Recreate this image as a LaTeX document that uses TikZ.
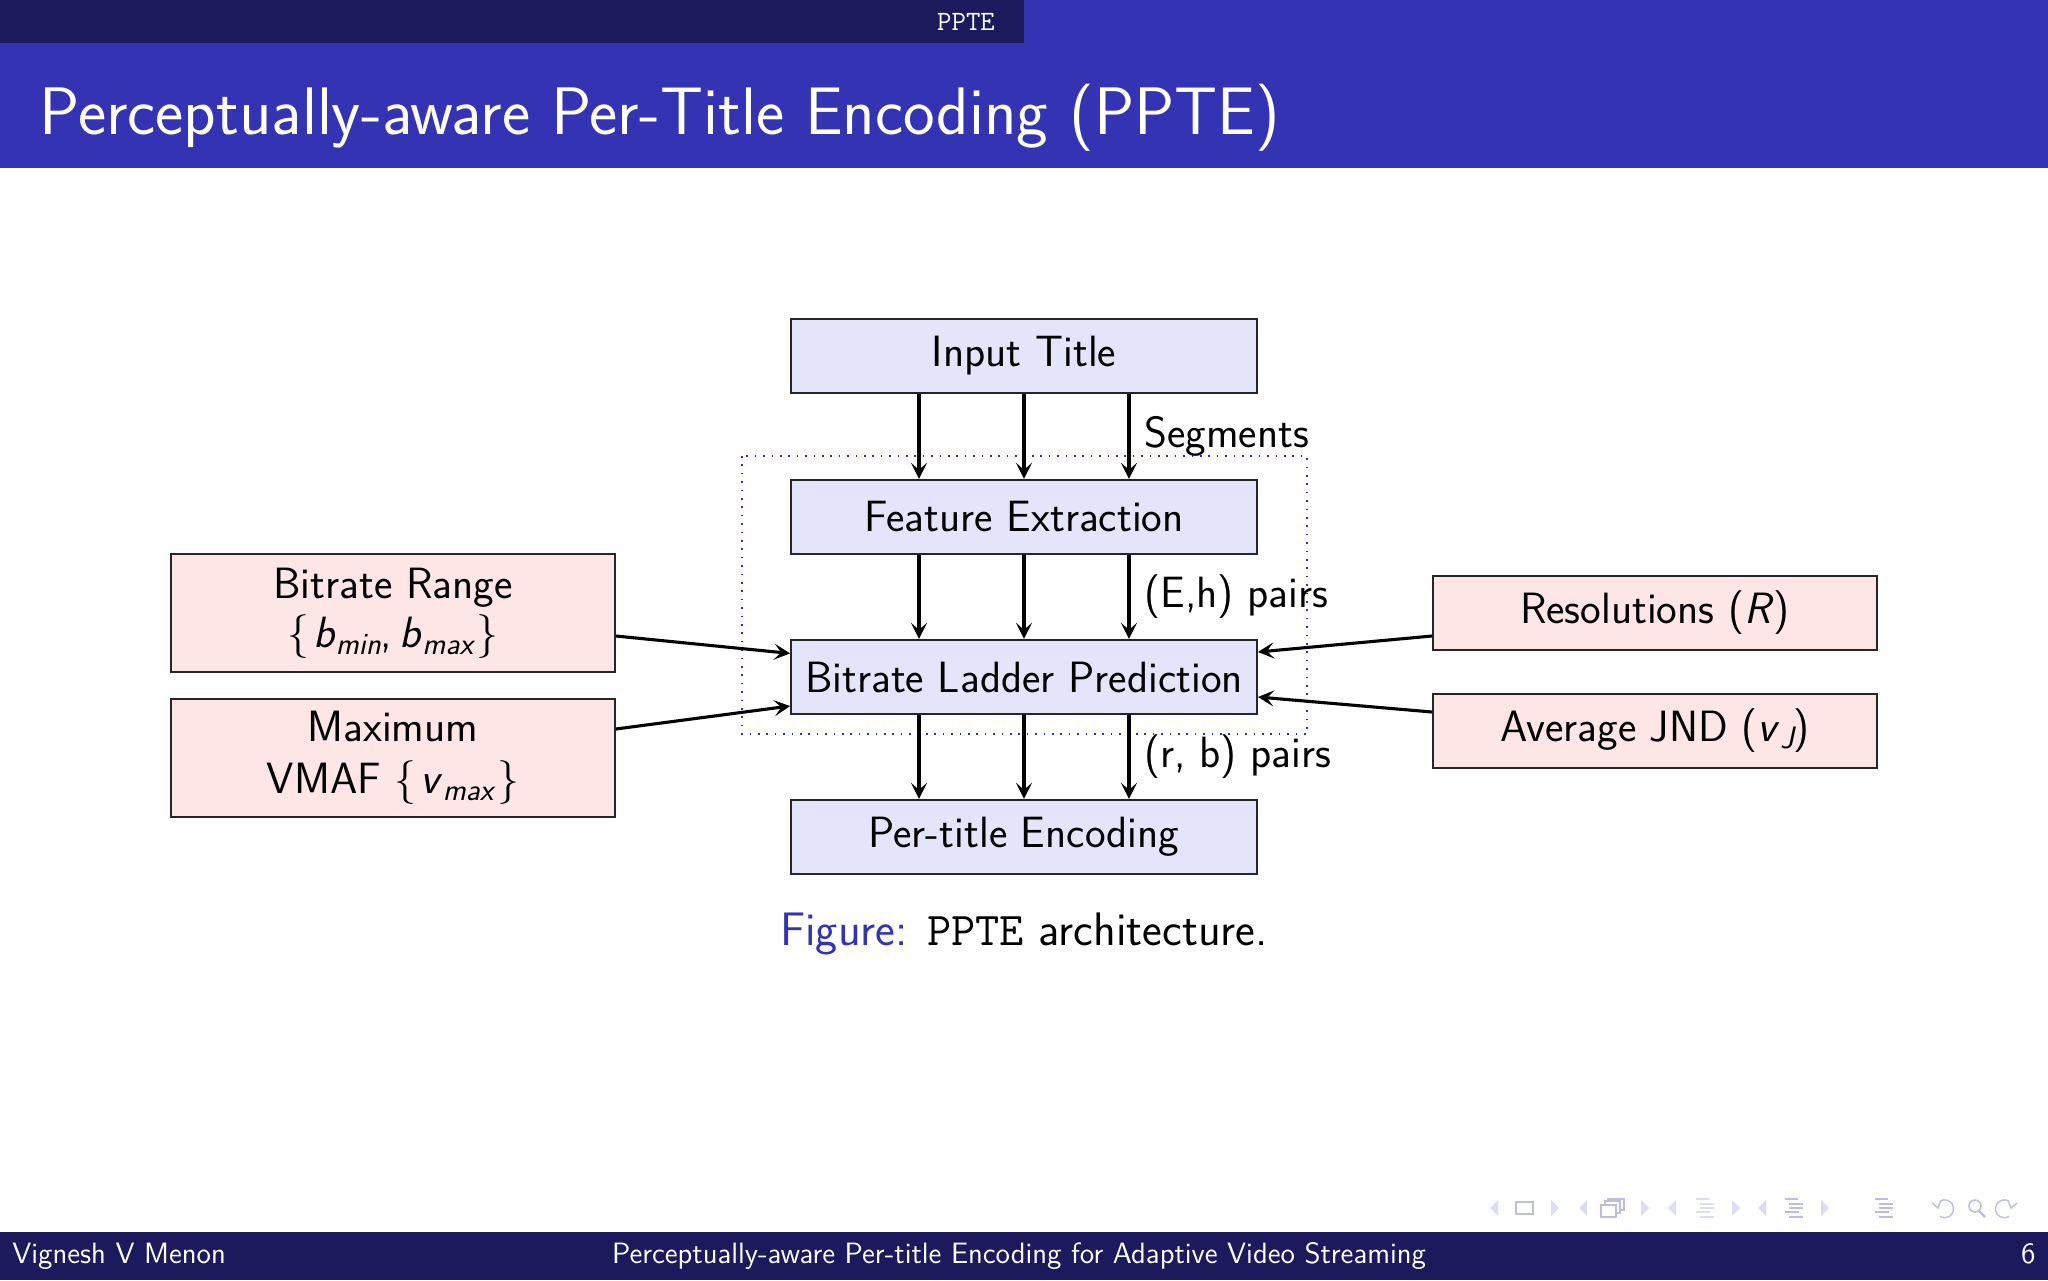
\documentclass[tikz,border=0pt]{standalone}
\usepackage{fontspec}
\usetikzlibrary{arrows.meta}
\definecolor{topdark}{HTML}{1A1A5C}
\definecolor{titleblue}{HTML}{3333B3}
\definecolor{boxblue}{HTML}{E4E5FB}
\definecolor{boxpink}{HTML}{FEE5E6}
\definecolor{navlight}{HTML}{DCDCF2}
\definecolor{navdark}{HTML}{BDBDE4}
\definecolor{framedots}{HTML}{3030C0}
\newcommand{\fs}[1]{\fontsize{#1}{#1}\selectfont}
\newcommand{\lb}{{\rmfamily\textbraceleft}\hspace{2pt}}
\newcommand{\rb}{\hspace{2pt}{\rmfamily\textbraceright}}
\newcommand{\sli}[1]{\textit{#1}}
\newcommand{\subsc}[1]{\raisebox{-0.15em}{\fs{15.5}\itshape #1}}
\newcommand{\dn}[1]{\raisebox{-0.7pt}{#1}}
\tikzset{
  x=0.5pt,y=-0.5pt,
  flowbox/.style={draw=black!85,line width=0.9pt,fill=boxblue,minimum width=233pt,minimum height=37.3pt,inner sep=0pt,align=center,font=\sffamily\fs{21.9}},
  sidebox/.style={draw=black!85,line width=0.9pt,fill=boxpink,minimum width=222pt,inner sep=0pt,align=center,font=\sffamily\fs{21.9}},
  conn/.style={draw=black,line width=1.55pt,-{Stealth[length=8pt,width=8pt,inset=3.5pt]}},
  lbl/.style={anchor=base west,inner sep=0pt,font=\sffamily\fs{21.9}},
  barw/.style={text=white,inner sep=0pt}
}
\begin{document}
\begin{tikzpicture}
\useasboundingbox (0,0) rectangle (2048,1280);
\fill[white] (0,0) rectangle (2048,1280);
% header and footer
\fill[titleblue] (0,0) rectangle (2048,168);
\fill[topdark] (0,0) rectangle (1024,43);
\fill[topdark] (0,1232) rectangle (2048,1280);
\node[barw,anchor=base,font=\ttfamily\fs{14}] (sect) at (966,30) {PPTE};
\node[barw,anchor=base west,font=\sffamily\fs{33.6}] (title) at (39,134) {Perceptually-aware Per-Title Encoding (PPTE)};
\node[barw,anchor=base west,font=\sffamily\fs{14.7}] (author) at (12,1263) {Vignesh V Menon};
\node[barw,anchor=base,font=\sffamily\fs{14.7}] (foot) at (1019,1263) {Perceptually-aware Per-title Encoding for Adaptive Video Streaming};
\node[barw,anchor=base east,font=\sffamily\fs{14.7}] (page) at (2036,1263) {6};
% dotted frame
\draw[framedots,dash pattern=on 0.8pt off 3.4pt,line width=0.8pt] (742,456) rectangle (1307,734);
% boxes
\node[flowbox] (input) at (1024,356) {\dn{Input Title}};
\node[flowbox] (fe) at (1024,517) {\dn{Feature Extraction}};
\node[flowbox] (blp) at (1024,677) {Bitrate Ladder Prediction};
\node[flowbox] (pte) at (1024,837) {\dn{Per-title Encoding}};
\node[sidebox,minimum height=59pt] (br) at (393,613) {\dn{Bitrate Range}\\[3.5pt]\lb\sli{b}\subsc{min},\,\sli{b}\subsc{max}\rb};
\node[sidebox,minimum height=59pt] (vm) at (393,758) {Maximum\\[4pt]VMAF \lb\sli{v}\subsc{max}\rb};
\node[sidebox,minimum height=37.3pt] (res) at (1655,613) {\dn{Resolutions (\sli{R})}};
\node[sidebox,minimum height=37.3pt] (jnd) at (1655,731) {Average JND (\sli{v}\subsc{J})};
% vertical connectors
\foreach \dx in {-52.5pt,0pt,52.5pt}{
  \draw[conn] ([xshift=\dx]input.south) -- ([xshift=\dx]fe.north);
  \draw[conn] ([xshift=\dx]fe.south) -- ([xshift=\dx]blp.north);
  \draw[conn] ([xshift=\dx]blp.south) -- ([xshift=\dx]pte.north);
}
% side connectors
\draw[conn] ([yshift=-11.5pt]br.east) -- ([yshift=11.8pt]blp.west);
\draw[conn] ([yshift=14.5pt]vm.east) -- ([yshift=-14.5pt]blp.west);
\draw[conn] ([yshift=-11.5pt]res.west) -- ([yshift=12.5pt]blp.east);
\draw[conn] ([yshift=9.5pt]jnd.west) -- ([yshift=-10pt]blp.east);
% labels
\node[lbl] (lseg) at (1144,447) {Segments};
\node[lbl] (leh) at (1144,607) {(E,h) pairs};
\node[lbl] (lrb) at (1144,767) {(r, b) pairs};
\node[anchor=base,inner sep=0pt,font=\sffamily\fs{23.5}] (cap) at (1024,945) {\textcolor{titleblue}{Figure:} {\ttfamily PPTE} architecture.};
% navigation symbols
\foreach \x/\d in {1494/-1,1583/-1,1672/-1,1762/-1,1555/1,1645/1,1736/1,1825/1}
  \fill[navlight] (\x-\d*4,1200) -- (\x+\d*4,1208) -- (\x-\d*4,1216) -- cycle;
\draw[navdark,line width=0.8pt] (1516,1202) rectangle (1533,1214);
\draw[navdark,line width=0.7pt] (1608,1199) rectangle (1624,1210);
\draw[navdark,line width=0.7pt,fill=white] (1605,1201) rectangle (1620,1213);
\draw[navdark,line width=0.8pt,fill=white] (1601,1205) rectangle (1616,1217);
\foreach \lx/\col in {1696/navlight,1785/navdark,1875/navdark}{
  \fill[\col] (\lx,1198) rectangle ++(13,2);
  \fill[\col] (\lx+4,1203) rectangle ++(14,2);
  \fill[\col] (\lx+4,1207) rectangle ++(14,2);
  \fill[\col] (\lx,1211) rectangle ++(14,2);
  \fill[\col] (\lx+4,1216) rectangle ++(14,2);
}
\draw[navdark,line width=0.7pt] (1940,1201) arc[start angle=-120,end angle=120,radius=9];
\draw[navdark,line width=0.7pt] (1932,1203) -- (1938,1208) -- (1941,1200);
\draw[navdark,line width=0.8pt] (1975,1206) circle[radius=6];
\draw[navdark,line width=1.1pt] (1979,1211) -- (1985,1217);
\draw[navdark,line width=0.7pt] (2009,1201) arc[start angle=-60,end angle=-300,radius=9];
\draw[navdark,line width=0.7pt] (2017,1203) -- (2011,1208) -- (2008,1200);
\end{tikzpicture}
\end{document}
